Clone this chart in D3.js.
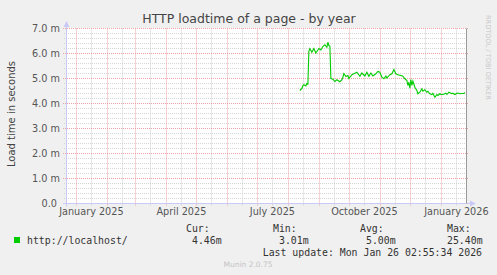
<!DOCTYPE html>
<html>
<head>
<meta charset="utf-8">
<script src="https://cdn.jsdelivr.net/npm/d3@7"></script>
<style>
  body { margin: 0; background: #f0f0f0; }
  svg { display: block; font-family: "DejaVu Sans", sans-serif; }
  .mono { font-family: "DejaVu Sans Mono", monospace; }
</style>
</head>
<body>
<svg id="chart" width="497" height="275"></svg>
<script>
// samples (milliseconds)
const dates = [
  "2025-08-13","2025-08-15","2025-08-16","2025-08-17","2025-08-19","2025-08-20","2025-08-21",
  "2025-08-22","2025-08-23","2025-08-25","2025-08-27","2025-08-29","2025-08-30","2025-09-01",
  "2025-09-03","2025-09-05","2025-09-07","2025-09-09","2025-09-10","2025-09-11","2025-09-12",
  "2025-09-13","2025-09-15","2025-09-17","2025-09-19","2025-09-22","2025-09-24","2025-09-25",
  "2025-09-26","2025-09-28","2025-09-30","2025-10-01","2025-10-04","2025-10-06","2025-10-09",
  "2025-10-12","2025-10-14","2025-10-17","2025-10-19","2025-10-21","2025-10-23","2025-10-25",
  "2025-10-28","2025-10-30","2025-11-01","2025-11-03","2025-11-05","2025-11-07","2025-11-08",
  "2025-11-11","2025-11-13","2025-11-15","2025-11-17","2025-11-19","2025-11-22","2025-11-24",
  "2025-11-26","2025-11-28","2025-11-29","2025-11-30","2025-12-01","2025-12-02","2025-12-03",
  "2025-12-04","2025-12-06","2025-12-08","2025-12-09","2025-12-11","2025-12-13","2025-12-14",
  "2025-12-16","2025-12-18","2025-12-19","2025-12-21","2025-12-23","2025-12-24","2025-12-26",
  "2025-12-28","2025-12-29","2025-12-31","2026-01-01","2026-01-03","2026-01-06","2026-01-07",
  "2026-01-09","2026-01-12","2026-01-13","2026-01-15","2026-01-17","2026-01-18","2026-01-20",
  "2026-01-22","2026-01-24","2026-01-25"
];
const loadtime = [
  4.52, 4.60, 4.72, 4.75, 4.70, 4.80, 4.78,
  6.10, 6.20, 6.05, 6.20, 6.02, 6.08, 6.20,
  6.14, 6.28, 6.35, 6.25, 6.45, 6.32, 6.30,
  5.00, 4.97, 4.88, 4.95, 4.87, 4.95, 5.05,
  5.20, 5.08, 5.12, 5.00, 5.15, 5.19, 5.25,
  5.09, 5.22, 5.10, 5.25, 5.09, 5.22, 5.10,
  5.19, 5.28, 5.25, 5.05, 4.99, 5.10, 5.02,
  5.15, 5.19, 5.36, 5.19, 5.15, 5.12, 5.09,
  4.99, 4.92, 4.72, 4.85, 4.61, 4.96, 4.72,
  4.90, 4.65, 4.52, 4.39, 4.45, 4.59, 4.49,
  4.55, 4.45, 4.49, 4.39, 4.36, 4.41, 4.25,
  4.36, 4.32, 4.39, 4.36, 4.36, 4.41, 4.36,
  4.45, 4.39, 4.41, 4.36, 4.41, 4.42, 4.39,
  4.40, 4.40, 4.44
];
const yTicks = [0, 1, 2, 3, 4, 5, 6, 7];
const monthLabels = ["January 2025", "April 2025", "July 2025", "October 2025", "January 2026"];
const legendHeads = ["Cur:", "Min:", "Avg:", "Max:"];
const legendValues = ["4.46m", "3.01m", "5.00m", "25.40m"];
const lastUpdate = "Mon Jan 26 02:55:34 2026";

const parse = d3.timeParse("%Y-%m-%d");
const endTime = new Date(2026, 0, 26, 2, 55, 34);
const startTime = d3.timeDay.offset(endTime, -400);

const svg = d3.select("#chart");
const plotL = 66, plotR = 466, plotT = 28.5, plotB = 203.5;

const x = d3.scaleTime().domain([startTime, endTime]).range([plotL, plotR]);
const y = d3.scaleLinear().domain([0, 7]).range([plotB, plotT]);
const px = v => Math.round(x(v)) + 0.5;
const py = v => Math.round(y(v) - 0.5) + 0.5;

svg.append("rect").attr("x", plotL).attr("y", 28).attr("width", plotR - plotL).attr("height", 175).attr("fill", "#fff");

const months = d3.timeMonth.range(startTime, endTime);
const halfMonths = months.map(m => d3.timeDay.offset(m, 15)).filter(d => d < endTime);
const minorY = d3.range(1, 35).map(i => i / 5).filter(v => Math.abs(v - Math.round(v)) > 1e-6);

const grid = svg.append("g");
// minor grid
grid.selectAll(".vmin").data(halfMonths).join("line")
  .attr("x1", px).attr("x2", px).attr("y1", plotT).attr("y2", plotB + 2)
  .attr("stroke", "#cfcfcf").attr("stroke-dasharray", "1,1");
grid.selectAll(".hmin").data(minorY).join("line")
  .attr("x1", plotL - 2).attr("x2", plotR).attr("y1", py).attr("y2", py)
  .attr("stroke", "#d6d6d6").attr("stroke-dasharray", "1,1");
// major grid
grid.selectAll(".vmaj").data(months).join("line")
  .attr("x1", px).attr("x2", px).attr("y1", plotT).attr("y2", plotB + 3)
  .attr("stroke", "#eca4a4").attr("stroke-dasharray", "1,1");
grid.selectAll(".hmaj").data(yTicks.slice(1)).join("line")
  .attr("x1", plotL - 3).attr("x2", plotR + 2).attr("y1", d => y(d)).attr("y2", d => y(d))
  .attr("stroke", "#eca4a4").attr("stroke-dasharray", "1,1");

// y labels
const yAxis = d3.axisLeft(y).tickValues(yTicks).tickSize(0).tickPadding(6)
  .tickFormat(d => d === 0 ? "0.0\u00a0" : d3.format(".1f")(d) + " m");
const gy = svg.append("g").attr("transform", `translate(${plotL},0)`).call(yAxis);
gy.select(".domain").remove();
gy.selectAll("text").attr("font-family", "DejaVu Sans").attr("font-size", 9.7).attr("fill", "#555");

// x labels, centred mid-month
const labelDates = months.filter(m => m.getMonth() % 3 === 0).map(m => d3.timeDay.offset(m, 15));
const xAxis = d3.axisBottom(x).tickValues(labelDates).tickSize(0).tickPadding(5)
  .tickFormat((d, i) => monthLabels[i]);
const gx = svg.append("g").attr("transform", `translate(0,${plotB})`).call(xAxis);
gx.select(".domain").remove();
gx.selectAll("text").attr("font-family", "DejaVu Sans").attr("font-size", 9.7).attr("fill", "#555");

// axes lines + arrows
const axisColor = "#c9c9f5";
svg.append("line").attr("x1", plotL + 0.5).attr("x2", plotL + 0.5).attr("y1", 24).attr("y2", plotB + 3).attr("stroke", axisColor);
svg.append("line").attr("x1", plotL - 3).attr("x2", 471).attr("y1", plotB).attr("y2", plotB).attr("stroke", axisColor);
svg.append("path").attr("d", `M${plotL - 2.5},27L${plotL + 0.5},21L${plotL + 3.5},27Z`).attr("fill", axisColor);
svg.append("path").attr("d", `M470,${plotB - 3}L476,${plotB}L470,${plotB + 3}Z`).attr("fill", axisColor);
svg.append("line").attr("x1", plotR + 0.5).attr("x2", plotR + 0.5).attr("y1", plotT).attr("y2", plotB).attr("stroke", "#9a9a9a");

// the series
const series = dates.map((d, i) => ({ t: parse(d), v: loadtime[i] }));
svg.append("path").datum(series)
  .attr("fill", "none").attr("stroke", "#00cc00").attr("stroke-width", 1.1)
  .attr("d", d3.line().x(d => x(d.t)).y(d => y(d.v)));

// titles
svg.append("text").attr("x", 249).attr("y", 23).attr("text-anchor", "middle")
  .attr("font-size", 12.5).attr("fill", "#444").text("HTTP loadtime of a page - by year");
svg.append("text").attr("transform", "translate(15,114) rotate(-90)").attr("text-anchor", "middle")
  .attr("font-size", 10).attr("fill", "#444").text("Load time in seconds");
svg.append("text").attr("transform", "translate(486,15) rotate(90)").attr("text-anchor", "start")
  .attr("font-size", 6.6).attr("fill", "#c8c8c8").text("RRDTOOL / TOBI OETIKER");

// legend
const legend = svg.append("g").attr("class", "mono").attr("font-size", 9.85).attr("fill", "#333");
legend.append("rect").attr("x", 14).attr("y", 237).attr("width", 6).attr("height", 6).attr("fill", "#00cc00");
legend.append("text").attr("x", 27).attr("y", 243.5).text("http://localhost/");
const headX = [186, 273, 360, 447];
const valX = [192, 279, 366, 447];
legend.selectAll(".head").data(legendHeads).join("text")
  .attr("x", (d, i) => headX[i]).attr("y", 231.5).text(d => d);
legend.selectAll(".val").data(legendValues).join("text")
  .attr("x", (d, i) => valX[i]).attr("y", 243.5).text(d => d);
legend.append("text").attr("x", 482).attr("y", 255.5).attr("text-anchor", "end").text("Last update: " + lastUpdate);

svg.append("text").attr("x", 248).attr("y", 267).attr("text-anchor", "middle")
  .attr("font-size", 7.5).attr("fill", "#c4c4c4").text("Munin 2.0.75");
</script>
</body>
</html>
